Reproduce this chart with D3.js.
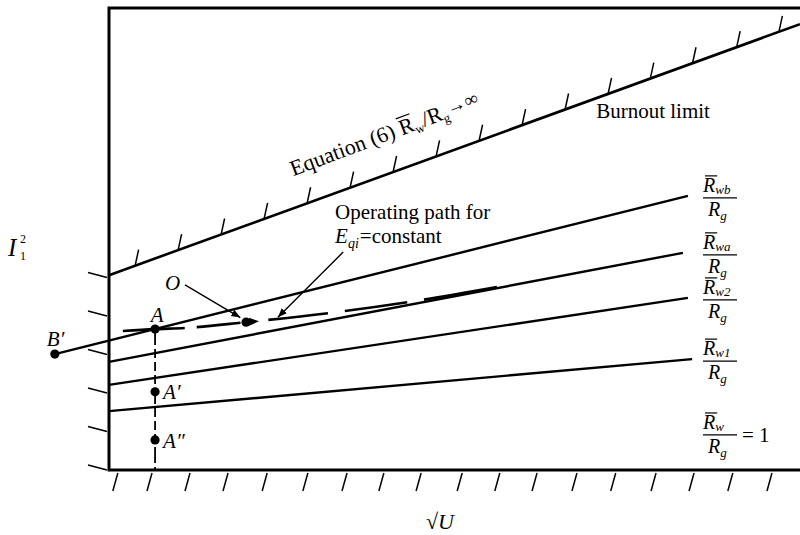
<!DOCTYPE html>
<html>
<head>
<meta charset="utf-8">
<script src="https://cdn.jsdelivr.net/npm/d3@7"></script>
<style>
  body { margin: 0; background: #fff; }
  text { font-family: "Liberation Serif", "Times New Roman", "DejaVu Serif", serif; fill: #000; }
  .it { font-style: italic; }
</style>
</head>
<body>
<svg width="800" height="535"></svg>
<script>
// values (x in sqrt(U) units, y in I1^2 units)
const xTicks = [0.23, 1.12, 2.11, 3.1, 4.12, 5.18, 6.2, 7.16, 8.13, 9.2, 10.18, 11.15, 12.19, 13.2, 14.25, 15.24, 16.25, 17.27];
const yTicks = [0, 1, 2, 3, 4, 5];

// burnout limit, eq. (6), Rw/Rg -> infinity
const burnoutX = [0, 18];
const burnoutY = [5.06, 11.58];
const hatchX = [0.68, 1.8, 2.92, 4.04, 5.16, 6.28, 7.4, 8.52, 9.64, 10.76, 11.88, 13.0, 14.1, 15.2, 16.35, 17.45];

// constant Rw/Rg lines
const ratioSubs = ["wb", "wa", "w2", "w1"];
const ratioX = [[-1.41, 15.08], [0, 14.95], [0, 15.08], [0, 15.19]];
const ratioY = [[3.01, 7.12], [2.81, 5.64], [2.21, 4.47], [1.53, 2.88]];

// operating path for Eqi = constant
const pathX = [0.36, 1.2, 1.98, 3.57, 5.76, 7.79, 10.11];
const pathY = [3.61, 3.66, 3.69, 3.84, 4.08, 4.36, 4.75];

// marked points
const pointNames = ["B\u2032", "A", "O", "A\u2032", "A\u2033"];
const pointX = [-1.41, 1.2, 3.57, 1.2, 1.2];
const pointY = [3.01, 3.66, 3.84, 2.03, 0.78];

const svg = d3.select("svg");
const x = d3.scaleLinear().domain([0, 18]).range([109, 800]);
const y = d3.scaleLinear().domain([0, 12]).range([470, 8]);
const line = d3.line().x(d => x(d[0])).y(d => y(d[1]));

const defs = svg.append("defs");
defs.append("marker")
  .attr("id", "arr")
  .attr("viewBox", "0 0 10 10")
  .attr("refX", 10).attr("refY", 5)
  .attr("markerWidth", 9).attr("markerHeight", 9)
  .attr("markerUnits", "userSpaceOnUse")
  .attr("orient", "auto")
  .append("path").attr("d", "M0,1L10,5L0,9Z").attr("fill", "#000");

// frame
svg.append("path")
  .attr("d", line([[18, 12], [0, 12], [0, 0], [18, 0]]))
  .attr("fill", "none").attr("stroke", "#000").attr("stroke-width", 3);

// slanted ticks
svg.selectAll(".xt").data(xTicks).enter().append("line")
  .attr("x1", d => x(d)).attr("y1", y(0) + 3)
  .attr("x2", d => x(d) - 5).attr("y2", y(0) + 21)
  .attr("stroke", "#000").attr("stroke-width", 1.5);

svg.selectAll(".yt").data(yTicks).enter().append("line")
  .attr("x1", x(0) - 2).attr("y1", d => y(d))
  .attr("x2", x(0) - 21).attr("y2", d => y(d) - 5)
  .attr("stroke", "#000").attr("stroke-width", 1.5);

// burnout line with hatching
svg.append("path")
  .attr("d", line(d3.zip(burnoutX, burnoutY)))
  .attr("fill", "none").attr("stroke", "#000").attr("stroke-width", 2.6);

const onBurnout = d3.scaleLinear().domain(burnoutX).range(burnoutY);
svg.selectAll(".hatch").data(hatchX).enter().append("line")
  .attr("x1", d => x(d)).attr("y1", d => y(onBurnout(d)))
  .attr("x2", d => x(d) + 3.5).attr("y2", d => y(onBurnout(d)) - 16)
  .attr("stroke", "#000").attr("stroke-width", 1.5);

// ratio lines
svg.selectAll(".ratio").data(ratioSubs).enter().append("path")
  .attr("d", (d, i) => line(d3.zip(ratioX[i], ratioY[i])))
  .attr("fill", "none").attr("stroke", "#000").attr("stroke-width", 2.4);

// vertical dashed line through A, A', A''
svg.append("line")
  .attr("x1", x(pointX[1])).attr("y1", y(pointY[1]))
  .attr("x2", x(pointX[1])).attr("y2", y(0))
  .attr("stroke", "#000").attr("stroke-width", 1.8)
  .attr("stroke-dasharray", "16,4,9,4,9,4,9,4");

// operating path (dashed)
svg.append("path")
  .attr("d", d3.line().x(d => x(d[0])).y(d => y(d[1])).curve(d3.curveMonotoneX)(d3.zip(pathX, pathY)))
  .attr("fill", "none").attr("stroke", "#000").attr("stroke-width", 2.6)
  .attr("stroke-dasharray", "62,12,44,28,60,17,63,17,74");

// dots
svg.selectAll(".pt").data(pointNames).enter().append("circle")
  .attr("cx", (d, i) => x(pointX[i])).attr("cy", (d, i) => y(pointY[i]))
  .attr("r", 4.6).attr("fill", "#000");

// arrowhead after O on the path
const ox = x(pointX[2]), oy = y(pointY[2]);
svg.append("path")
  .attr("d", `M${ox + 3},${oy - 4.5}L${ox + 13},${oy - 0.8}L${ox + 3},${oy + 3.5}Z`)
  .attr("fill", "#000");

// point labels
const lab = (t, px, py, anchor) => svg.append("text").attr("class", "it")
  .attr("x", px).attr("y", py).attr("text-anchor", anchor || "start")
  .attr("font-size", 21).text(t);
lab(pointNames[0], x(pointX[0]) - 8, y(pointY[0]) - 8);
lab(pointNames[1], x(pointX[1]) + 2, y(pointY[1]) - 7, "middle");
lab(pointNames[2], x(pointX[2]) - 81, y(pointY[2]) - 32);
lab(pointNames[3], x(pointX[3]) + 8, y(pointY[3]) + 7);
lab(pointNames[4], x(pointX[4]) + 8, y(pointY[4]) + 8);

// leaders
svg.append("line")
  .attr("x1", x(1.98)).attr("y1", y(4.81))
  .attr("x2", x(3.42)).attr("y2", y(3.96))
  .attr("stroke", "#000").attr("stroke-width", 1.4)
  .attr("marker-end", "url(#arr)");
svg.append("line")
  .attr("x1", x(6.1)).attr("y1", y(5.66))
  .attr("x2", x(4.4)).attr("y2", y(3.97))
  .attr("stroke", "#000").attr("stroke-width", 1.4)
  .attr("marker-end", "url(#arr)");

// operating path text
svg.append("text").attr("x", x(5.89)).attr("y", y(6.52))
  .attr("font-size", 21).text("Operating path for");
const eq = svg.append("text").attr("x", x(5.89)).attr("y", y(5.9)).attr("font-size", 21);
eq.append("tspan").attr("class", "it").text("E");
eq.append("tspan").attr("class", "it").attr("font-size", 14).attr("dy", 5).text("qi");
eq.append("tspan").attr("dy", -5).attr("dx", 1).text("=constant");

// bar over a character inside a text element
function overbar(parent, textEl, idx, fs, shift) {
  const n = textEl.node();
  const p0 = n.getStartPositionOfChar(idx);
  const p1 = n.getEndPositionOfChar(idx);
  parent.append("line")
    .attr("x1", p0.x + shift).attr("x2", p1.x + shift)
    .attr("y1", p0.y - fs * 0.8).attr("y2", p0.y - fs * 0.8)
    .attr("stroke", "#000").attr("stroke-width", 1.2);
}

// equation (6) label along the burnout line
const g6 = svg.append("g")
  .attr("transform", `translate(${x(4.8)},${y(7.63)}) rotate(-20.6)`);
const t6 = g6.append("text").attr("font-size", 22);
t6.append("tspan").text("Equation (6) ");
t6.append("tspan").text("R");
t6.append("tspan").attr("font-size", 13).attr("dy", 4).text("w");
t6.append("tspan").attr("dy", -4).text("/R");
t6.append("tspan").attr("font-size", 13).attr("dy", 4).text("g");
t6.append("tspan").attr("font-size", 19).attr("dy", -7).text("\u2192\u221E");
overbar(g6, t6, 13, 22, 0);

svg.append("text").attr("x", x(12.69)).attr("y", y(9.14))
  .attr("font-size", 21).text("Burnout limit");

// fraction labels on the right
function frac(cx, barY, sub) {
  const g = svg.append("g");
  const num = g.append("text").attr("x", cx - 17).attr("y", barY - 6).attr("font-size", 20);
  num.append("tspan").attr("class", "it").text("R");
  num.append("tspan").attr("class", "it").attr("font-size", 13).attr("dy", 2).text(sub);
  overbar(g, num, 0, 20, 2);
  g.append("line").attr("x1", cx - 17).attr("x2", cx + 17)
    .attr("y1", barY).attr("y2", barY)
    .attr("stroke", "#000").attr("stroke-width", 1.2);
  const den = g.append("text").attr("x", cx - 12).attr("y", barY + 18).attr("font-size", 20);
  den.append("tspan").attr("class", "it").text("R");
  den.append("tspan").attr("class", "it").attr("font-size", 13).attr("dy", 4).text("g");
}
ratioSubs.forEach((s, i) => {
  const last = ratioX[i].length - 1;
  frac(720, y(ratioY[i][last]) + 2, s);
});
frac(720, y(0.91), "w");
svg.append("text").attr("x", 742).attr("y", y(0.91) + 7)
  .attr("font-size", 21).text("= 1");

// axis titles
const yl = svg.append("g");
yl.append("text").attr("class", "it").attr("x", 8).attr("y", 256).attr("font-size", 25).text("I");
yl.append("text").attr("x", 20).attr("y", 243).attr("font-size", 12).text("2");
yl.append("text").attr("x", 20).attr("y", 260).attr("font-size", 12).text("1");

const xl = svg.append("text").attr("x", 426).attr("y", 529).attr("font-size", 22);
xl.append("tspan").text("\u221A");
xl.append("tspan").attr("class", "it").text("U");
</script>
</body>
</html>
